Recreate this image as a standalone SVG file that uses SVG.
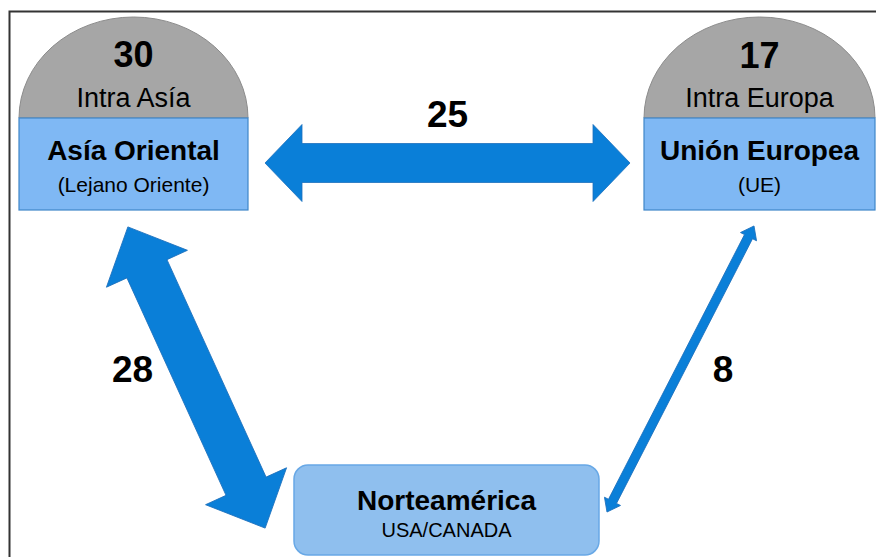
<svg xmlns="http://www.w3.org/2000/svg" width="876" height="557" viewBox="0 0 876 557">
<style>
.dome{fill:#a6a6a6;stroke:#8c8c8c;stroke-width:1}
.band{fill:#7fb8f4;stroke:#3f86c8;stroke-width:1.2}
.na{fill:#8fbfee;stroke:#68a8e6;stroke-width:1.5}
.arr{fill:#0a7fd8;stroke:#1d70bd;stroke-width:0.8}
text{font-family:"Liberation Sans",Arial,sans-serif;fill:#000;text-anchor:middle}
.num{font-size:37px;font-weight:bold}
.sub{font-size:27px}
.title{font-size:28px;font-weight:bold}
.small{font-size:21px}
</style>
<rect x="0" y="0" width="876" height="557" fill="#fff"/>
<path d="M9.5,557 L9.5,11.5 L876,11.5" fill="none" stroke="#333" stroke-width="2"/>
<g id="asia">
<path class="dome" d="M19,118 A114.5,101 0 0 1 248,118 Z"/>
<rect class="band" x="19" y="118" width="229" height="92"/>
<text class="num" x="133.5" y="67" style="font-size:36px">30</text>
<text class="sub" x="133.5" y="107">Intra Asía</text>
<text class="title" x="133.5" y="160">Asía Oriental</text>
<text class="small" x="133.5" y="192">(Lejano Oriente)</text>
</g>
<g id="europa">
<path class="dome" d="M644,118 A115.5,101 0 0 1 875,118 Z"/>
<rect class="band" x="644" y="118" width="231" height="92"/>
<text class="num" x="759.5" y="68" style="font-size:36px">17</text>
<text class="sub" x="759.5" y="107">Intra Europa</text>
<text class="title" x="759.5" y="160">Unión Europea</text>
<text class="small" x="759.5" y="192">(UE)</text>
</g>
<g id="norteamerica">
<rect class="na" x="294" y="465" width="305" height="90" rx="14"/>
<text class="title" x="446.5" y="510">Norteamérica</text>
<text x="446.5" y="537" style="font-size:20px">USA/CANADA</text>
</g>
<g id="connectors">
<path class="arr" d="M265,163 L302,124.5 L302,143.5 L593,143.5 L593,124.5 L630,163 L593,201.5 L593,182.5 L302,182.5 L302,201.5 Z"/>
<path class="arr" transform="translate(196.5,377.5) rotate(65.5)" d="M-165.5,0 L-119.5,-44.5 L-119.5,-22 L119.5,-22 L119.5,-44.5 L165.5,0 L119.5,44.5 L119.5,22 L-119.5,22 L-119.5,44.5 Z"/>
<path class="arr" transform="translate(680.5,369) rotate(117.2)" d="M-160.8,0 L-148.8,-9 L-148.8,-4.5 L148.8,-4.5 L148.8,-9 L160.8,0 L148.8,9 L148.8,4.5 L-148.8,4.5 L-148.8,9 Z"/>
<text class="num" x="447.5" y="127">25</text>
<text class="num" x="132.5" y="382">28</text>
<text class="num" x="723" y="382">8</text>
</g>
</svg>
